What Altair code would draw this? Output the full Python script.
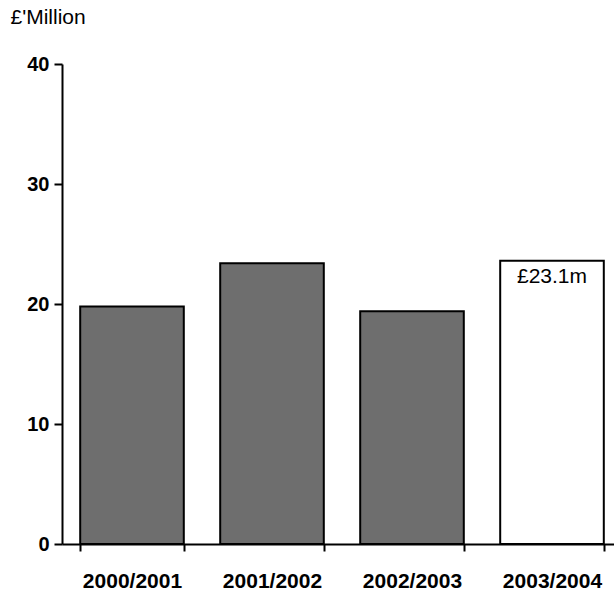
import altair as alt
import pandas as pd

years = ["2000/2001", "2001/2002", "2002/2003", "2003/2004"]
values = [19.8, 23.4, 19.4, 23.6]
fills = ["past", "past", "past", "current"]
labels = ["", "", "", "£23.1m"]

df = pd.DataFrame({"year": years, "value": values, "kind": fills, "label": labels})

FONT = "Liberation Sans"

x_enc = alt.X(
    "year:N",
    sort=years,
    scale=alt.Scale(range=[0, 560], paddingInner=0.26, paddingOuter=0.13),
    axis=alt.Axis(
        title=None,
        labelAngle=0,
        labelFont=FONT,
        labelFontWeight="bold",
        labelFontSize=21,
        labelColor="black",
        labelPadding=19,
        tickBand="extent",
        tickSize=7,
        tickWidth=2,
        tickColor="black",
        domainColor="black",
        domainWidth=2,
    ),
)

y_enc = alt.Y(
    "value:Q",
    scale=alt.Scale(domain=[0, 40], nice=False),
    axis=alt.Axis(
        values=[0, 10, 20, 30, 40],
        title="£'Million",
        titleAngle=0,
        titleX=-52,
        titleY=-47,
        titleAlign="left",
        titleBaseline="middle",
        titleFont=FONT,
        titleFontWeight="normal",
        titleFontSize=21,
        titleColor="black",
        labelFont=FONT,
        labelFontWeight="bold",
        labelFontSize=20,
        labelColor="black",
        labelPadding=5,
        tickSize=8,
        tickWidth=2,
        tickColor="black",
        domainColor="black",
        domainWidth=2,
        grid=False,
    ),
)

bars = alt.Chart(df).mark_bar(stroke="black", strokeWidth=2).encode(
    x=x_enc,
    y=y_enc,
    color=alt.Color(
        "kind:N",
        scale=alt.Scale(domain=["past", "current"], range=["#6e6e6e", "#ffffff"]),
        legend=None,
    ),
)

text = alt.Chart(df).mark_text(
    font=FONT, fontSize=21, color="black", baseline="top", dy=5
).encode(
    x=alt.X("year:N", sort=years),
    y=alt.Y("value:Q"),
    text="label:N",
)

chart = (
    alt.layer(bars, text)
    .properties(
        width=552,
        height=480,
        autosize=alt.AutoSizeParams(type="none"),
        padding={"left": 62, "top": 64, "right": 0, "bottom": 48},
        background="white",
    )
    .configure_view(stroke=None)
)

chart.save("out.html", embed_options={"renderer": "svg", "actions": False})
